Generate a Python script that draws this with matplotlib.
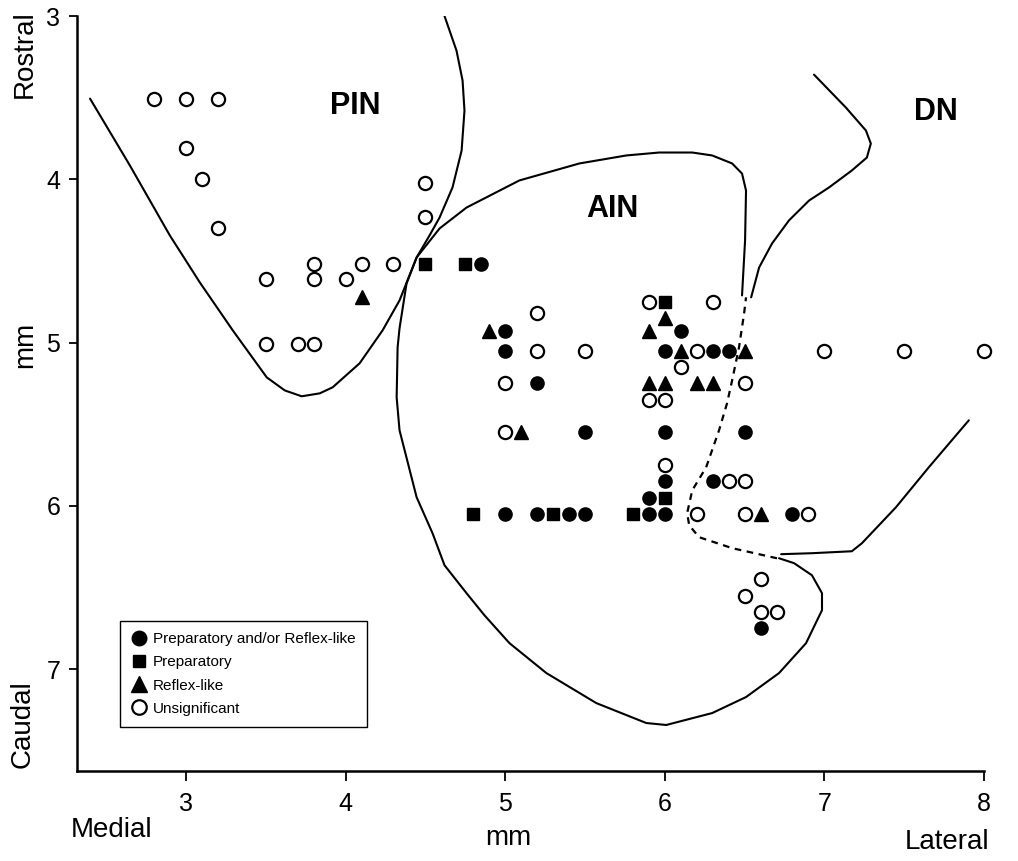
import numpy as np
import matplotlib.pyplot as plt

plt.rcParams['font.family'] = ['Liberation Sans', 'DejaVu Sans']

# recording sites (mm), grouped by response type
prep_reflex_x = [4.85, 5.0, 5.0, 5.2, 5.5, 6.1, 6.0, 6.3, 6.4, 6.0, 6.5, 6.0, 6.3, 5.9,
                 5.0, 5.2, 5.4, 5.5, 5.9, 6.0, 6.8, 6.6]
prep_reflex_y = [4.52, 4.93, 5.05, 5.25, 5.55, 4.93, 5.05, 5.05, 5.05, 5.55, 5.55, 5.85, 5.85, 5.95,
                 6.05, 6.05, 6.05, 6.05, 6.05, 6.05, 6.05, 6.75]

prep_x = [4.5, 4.75, 6.0, 6.0, 4.8, 5.3, 5.8]
prep_y = [4.52, 4.52, 4.75, 5.95, 6.05, 6.05, 6.05]

reflex_x = [4.1, 4.9, 5.9, 6.0, 6.1, 6.5, 5.9, 6.0, 6.2, 6.3, 5.1, 6.6]
reflex_y = [4.72, 4.93, 4.93, 4.85, 5.05, 5.05, 5.25, 5.25, 5.25, 5.25, 5.55, 6.05]

unsig_x = [2.8, 3.0, 3.2, 3.0, 3.1, 3.2, 4.5, 4.5, 3.5, 3.8, 3.8, 4.0, 4.1, 4.3, 3.5, 3.7, 3.8,
           5.9, 6.3, 5.2, 5.2, 5.5, 6.2, 7.0, 7.5, 8.0, 6.1, 5.0, 6.5, 5.9, 6.0, 5.0, 6.0,
           6.4, 6.5, 6.2, 6.5, 6.9, 6.6, 6.5, 6.6, 6.7]
unsig_y = [3.51, 3.51, 3.51, 3.81, 4.0, 4.3, 4.02, 4.23, 4.61, 4.52, 4.61, 4.61, 4.52, 4.52, 5.01, 5.01, 5.01,
           4.75, 4.75, 4.82, 5.05, 5.05, 5.05, 5.05, 5.05, 5.05, 5.15, 5.25, 5.25, 5.35, 5.35, 5.55, 5.75,
           5.85, 5.85, 6.05, 6.05, 6.05, 6.45, 6.55, 6.65, 6.65]

# nucleus outlines (mm)
# PIN caudal border running on into the rostral/lateral border of AIN
outline_a_x = [2.399, 2.649, 2.899, 3.087, 3.293, 3.506, 3.619, 3.725, 3.838, 3.919, 4.088, 4.232,
               4.338, 4.445, 4.589, 4.758, 5.089, 5.465, 5.759, 5.965, 6.172, 6.297, 6.422, 6.484,
               6.509, 6.503, 6.484]
outline_a_y = [3.506, 3.916, 4.344, 4.632, 4.925, 5.213, 5.293, 5.329, 5.311, 5.274, 5.127, 4.925,
               4.742, 4.479, 4.301, 4.173, 4.007, 3.903, 3.854, 3.836, 3.836, 3.854, 3.903, 3.965,
               4.069, 4.375, 4.711]

# PIN lateral border running on into the medial/caudal border of AIN
outline_b_x = [4.620, 4.695, 4.733, 4.745, 4.727, 4.670, 4.589, 4.526, 4.445, 4.382, 4.338, 4.326,
               4.320, 4.338, 4.445, 4.545, 4.620, 4.758, 4.870, 5.027, 5.258, 5.571, 5.884, 6.009,
               6.297, 6.509, 6.716, 6.885, 6.985, 6.985, 6.922, 6.810, 6.716]
outline_b_y = [3.0, 3.212, 3.395, 3.579, 3.824, 4.050, 4.234, 4.344, 4.479, 4.638, 4.913, 5.029,
               5.335, 5.537, 5.947, 6.168, 6.364, 6.535, 6.670, 6.841, 7.024, 7.208, 7.330, 7.342,
               7.269, 7.171, 7.024, 6.841, 6.639, 6.535, 6.425, 6.351, 6.321]

# uncertain AIN / DN border
dashed_x = [6.703, 6.422, 6.215, 6.153, 6.140, 6.172, 6.259, 6.340, 6.390, 6.422, 6.465, 6.497, 6.509]
dashed_y = [6.321, 6.259, 6.192, 6.119, 6.045, 5.905, 5.764, 5.537, 5.372, 5.231, 5.029, 4.821, 4.723]

dn_upper_x = [6.935, 7.135, 7.260, 7.291, 7.266, 7.172, 7.029, 6.904, 6.778, 6.672, 6.591, 6.541]
dn_upper_y = [3.359, 3.561, 3.701, 3.781, 3.867, 3.946, 4.050, 4.130, 4.252, 4.393, 4.540, 4.723]

dn_lower_x = [6.729, 6.922, 7.172, 7.235, 7.448, 7.654, 7.905]
dn_lower_y = [6.296, 6.290, 6.278, 6.229, 6.009, 5.764, 5.476]

nucleus_names = ['PIN', 'AIN', 'DN']
nucleus_x = [4.06, 5.67, 7.70]
nucleus_y = [3.55, 4.18, 3.59]

fig = plt.figure(figsize=(10.18, 8.61), dpi=100)
ax = fig.add_axes([0.0756, 0.1045, 0.891, 0.8769])

line_kw = dict(color='black', lw=1.5, solid_joinstyle='round', solid_capstyle='round')
ax.plot(outline_a_x, outline_a_y, **line_kw)
ax.plot(outline_b_x, outline_b_y, **line_kw)
ax.plot(dn_upper_x, dn_upper_y, **line_kw)
ax.plot(dn_lower_x, dn_lower_y, **line_kw)
ax.plot(dashed_x, dashed_y, color='black', lw=1.6, linestyle=(0, (3, 2.5)))

ax.plot(prep_reflex_x, prep_reflex_y, 'o', color='black', ms=9.5, clip_on=False,
        label='Preparatory and/or Reflex-like')
ax.plot(prep_x, prep_y, 's', color='black', ms=8.5, clip_on=False, label='Preparatory')
ax.plot(reflex_x, reflex_y, '^', color='black', ms=10, clip_on=False, label='Reflex-like')
ax.plot(unsig_x, unsig_y, 'o', mfc='white', mec='black', mew=1.6, ms=9.5, clip_on=False,
        label='Unsignificant')

for name, nx, ny in zip(nucleus_names, nucleus_x, nucleus_y):
    ax.text(nx, ny, name, fontsize=22, fontweight='bold', ha='center', va='center')

ax.set_xlim(2.317, 8.0)
ax.set_ylim(7.624, 3.0)
ax.set_xticks([3, 4, 5, 6, 7, 8])
ax.set_yticks([3, 4, 5, 6, 7])
ax.tick_params(axis='both', direction='out', width=1.3, labelsize=18, color='black')
ax.tick_params(axis='x', length=7, pad=8)
ax.tick_params(axis='y', length=6, pad=6)
for side in ['top', 'right']:
    ax.spines[side].set_visible(False)
for side in ['left', 'bottom']:
    ax.spines[side].set_linewidth(1.8)

leg = ax.legend(loc='lower left', bbox_to_anchor=(0.047, 0.058), borderaxespad=0,
                fontsize=11, fancybox=False, edgecolor='black', framealpha=1,
                markerscale=1.1, handlelength=1.0, handletextpad=0.45,
                labelspacing=0.6, borderpad=0.75)
leg.get_frame().set_linewidth(1.0)

fig.text(0.0246, 0.937, 'Rostral', rotation=90, fontsize=20, ha='center', va='center')
fig.text(0.0246, 0.599, 'mm', rotation=90, fontsize=20, ha='center', va='center')
fig.text(0.0225, 0.159, 'Caudal', rotation=90, fontsize=20, ha='center', va='center')
fig.text(0.110, 0.036, 'Medial', fontsize=20, ha='center', va='center')
fig.text(0.499, 0.027, 'mm', fontsize=20, ha='center', va='center')
fig.text(0.930, 0.022, 'Lateral', fontsize=20, ha='center', va='center')

fig.savefig('out.png', dpi=100)
